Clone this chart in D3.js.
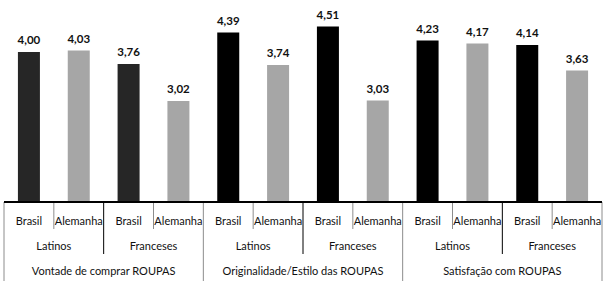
<!DOCTYPE html>
<html>
<head>
<meta charset="utf-8">
<script src="https://cdn.jsdelivr.net/npm/d3@7"></script>
<style>
  body { margin: 0; background: #fff; }
  svg text { font-family: Lato, "Open Sans", sans-serif; }
</style>
</head>
<body>
<div id="wrapper"></div>
<script>
// data
const dimensoes = ["Vontade de comprar ROUPAS", "Originalidade/Estilo das ROUPAS", "Satisfação com ROUPAS"];
const grupos = ["Latinos", "Franceses"];
const paises = ["Brasil", "Alemanha"];
const valores = [
  [4.00, 4.03, 3.76, 3.02],
  [4.39, 3.74, 4.51, 3.03],
  [4.23, 4.17, 4.14, 3.63]
];
const yDomain = [1, 5];

const width = 609, height = 291;
const corBrasil = ["#262626", "#000000", "#000000"];
const corAlemanha = "#a6a6a6";

// flatten into one row per bar
const barras = [];
dimensoes.forEach((dim, i) => {
  grupos.forEach((g, j) => {
    paises.forEach((p, k) => {
      barras.push({ key: `${i}-${j}-${k}`, dim: i, grupo: j, pais: k, valor: valores[i][j * 2 + k] });
    });
  });
});

const svg = d3.select("#wrapper")
  .append("svg")
  .attr("width", width)
  .attr("height", height);

const x = d3.scaleBand()
  .domain(barras.map(d => d.key))
  .range([4, 602]);

const y = d3.scaleLinear()
  .domain(yDomain)
  .range([202, 2]);

const barW = 22;

svg.selectAll("rect.bar")
  .data(barras)
  .enter()
  .append("rect")
  .attr("class", "bar")
  .attr("x", d => x(d.key) + (x.bandwidth() - barW) / 2)
  .attr("width", barW)
  .attr("y", d => y(d.valor))
  .attr("height", d => y(yDomain[0]) - y(d.valor))
  .style("fill", d => d.pais === 0 ? corBrasil[d.dim] : corAlemanha);

svg.selectAll("text.valor")
  .data(barras)
  .enter()
  .append("text")
  .attr("class", "valor")
  .attr("x", d => x(d.key) + x.bandwidth() / 2)
  .attr("y", d => y(d.valor) - 8)
  .attr("text-anchor", "middle")
  .style("font-size", "11.5px")
  .style("font-weight", "bold")
  .style("fill", "#111")
  .text(d => d.valor.toFixed(2).replace(".", ","));

// category levels below the axis
const baseY = y(yDomain[0]);
const bw = x.bandwidth();

// level 1: country
svg.selectAll("text.pais")
  .data(barras)
  .enter()
  .append("text")
  .attr("class", "pais")
  .attr("x", d => x(d.key) + bw / 2)
  .attr("y", 225)
  .attr("text-anchor", "middle")
  .style("font-size", "11px")
  .style("fill", "#111")
  .text(d => paises[d.pais]);

// dividers between countries
svg.selectAll("line.div1")
  .data(barras.filter(d => d.pais === 1))
  .enter()
  .append("line")
  .attr("class", "div1")
  .attr("x1", d => x(d.key)).attr("x2", d => x(d.key))
  .attr("y1", baseY).attr("y2", 229)
  .style("stroke", "#8c8c8c");

// level 2: groups
const grupoBarras = barras.filter(d => d.pais === 0);
svg.selectAll("text.grupo")
  .data(grupoBarras)
  .enter()
  .append("text")
  .attr("class", "grupo")
  .attr("x", d => x(d.key) + bw)
  .attr("y", 250)
  .attr("text-anchor", "middle")
  .style("font-size", "11px")
  .style("fill", "#111")
  .text(d => grupos[d.grupo]);

svg.selectAll("line.div2")
  .data(grupoBarras.filter(d => d.grupo === 1))
  .enter()
  .append("line")
  .attr("class", "div2")
  .attr("x1", d => x(d.key)).attr("x2", d => x(d.key))
  .attr("y1", baseY).attr("y2", 254)
  .style("stroke", "#000");

// level 3: dimensions
const dimBarras = barras.filter(d => d.grupo === 0 && d.pais === 0);
svg.selectAll("text.dim")
  .data(dimBarras)
  .enter()
  .append("text")
  .attr("class", "dim")
  .attr("x", d => x(d.key) + bw * 2)
  .attr("y", 275)
  .attr("text-anchor", "middle")
  .style("font-size", "11px")
  .style("fill", "#111")
  .text(d => dimensoes[d.dim]);

const divs3 = dimBarras.map(d => x(d.key)).concat([x.range()[1]]);
svg.selectAll("line.div3")
  .data(divs3)
  .enter()
  .append("line")
  .attr("class", "div3")
  .attr("x1", d => d).attr("x2", d => d)
  .attr("y1", baseY).attr("y2", 281)
  .style("stroke", "#8c8c8c");

// axis line
svg.append("line")
  .attr("x1", x.range()[0]).attr("x2", x.range()[1])
  .attr("y1", baseY).attr("y2", baseY)
  .style("stroke", "#000")
  .style("stroke-width", 2);
</script>
</body>
</html>
